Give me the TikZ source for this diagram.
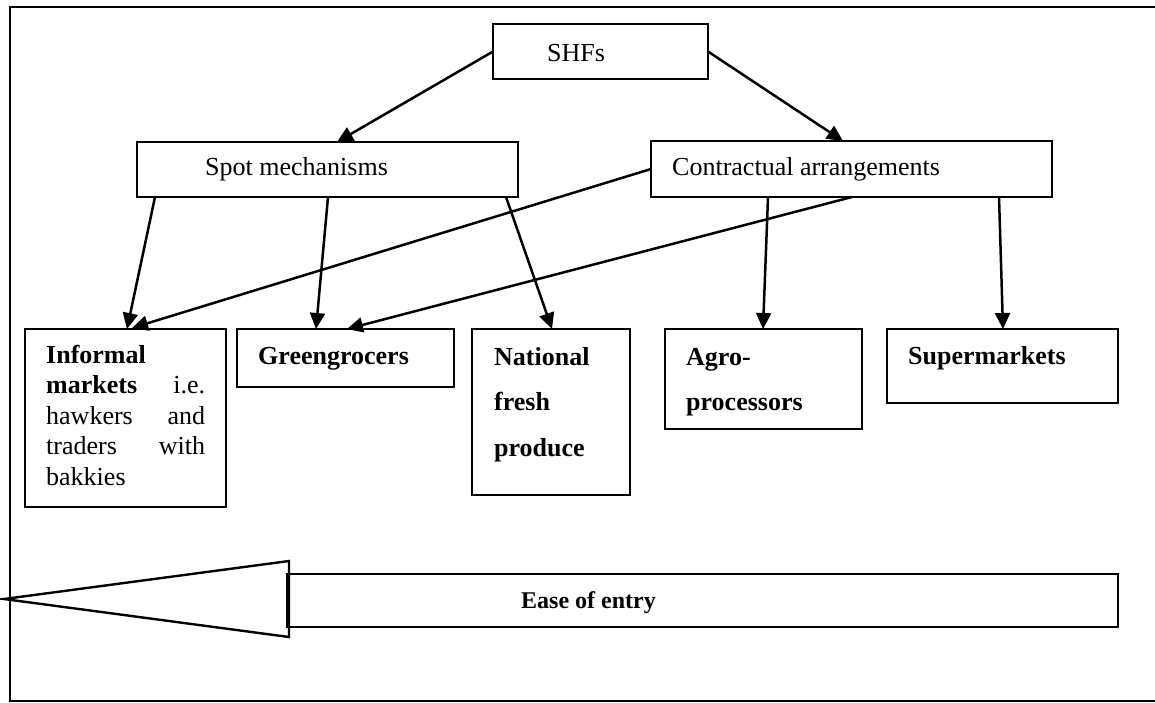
\documentclass[tikz,border=0pt]{standalone}
\usepackage{fontspec}
\setmainfont{Liberation Serif}
\usetikzlibrary{arrows.meta}
\begin{document}
\begin{tikzpicture}[x=1pt,y=-1pt,
  box/.style={draw,line width=1.9pt,rectangle,inner sep=0pt,outer sep=0pt,anchor=north west},
  txt/.style={inner sep=0pt,anchor=base west,font=\fontsize{26}{30}\selectfont},
  link/.style={line width=2.5pt,-{Triangle[length=16pt,width=15pt]}}]
\useasboundingbox (0,0) rectangle (1155,702);
% outer frame
\draw[line width=2.6pt] (1170,7) -- (10,7) -- (10,701) -- (1170,701);
% boxes
\node[box,minimum width=215pt,minimum height=55pt] (shf) at (493,24) {};
\node[box,minimum width=381pt,minimum height=55pt] (spot) at (137,142) {};
\node[box,minimum width=401pt,minimum height=56pt] (contr) at (651,141) {};
\node[box,minimum width=201pt,minimum height=178pt] (inf) at (25,329) {};
\node[box,minimum width=217pt,minimum height=58pt] (grn) at (237,329) {};
\node[box,minimum width=158pt,minimum height=166pt] (nat) at (472,329) {};
\node[box,minimum width=197pt,minimum height=100pt] (agro) at (665,329) {};
\node[box,minimum width=231pt,minimum height=74pt] (sup) at (887,329) {};
% labels
\node[txt] (tshf) at (547,61) {SHFs};
\node[txt] (tspot) at (205,175) {Spot mechanisms};
\node[txt] (tcontr) at (672,175) {Contractual arrangements};
\node[txt] (tinf) at (46,363) {\parbox[t]{159pt}{\fontsize{26}{30.5}\selectfont
  \textbf{Informal}\\ \textbf{markets}\hfill i.e.\\ hawkers\hfill and\\ traders\hfill with\\ bakkies}};
\node[txt] (tgrn) at (258,364) {\textbf{Greengrocers}};
\node[txt] (tnat) at (494,365) {\parbox[t]{130pt}{\fontsize{26}{45.5}\selectfont\bfseries
  National\\ fresh\\ produce}};
\node[txt] (tagro) at (686,365) {\parbox[t]{170pt}{\fontsize{26}{45.5}\selectfont\bfseries
  Agro-\\ processors}};
\node[txt] (tsup) at (908,364) {\textbf{Supermarkets}};
% connectors
\draw[link] (shf.west) -- ([xshift=200pt]spot.north west);
\draw[link] (shf.east) -- ([xshift=192pt]contr.north west);
\draw[link] ([xshift=18pt]spot.south west) -- ([xshift=102pt]inf.north west);
\draw[link] ([xshift=191pt]spot.south west) -- ([xshift=79pt]grn.north west);
\draw[link] ([xshift=369pt]spot.south west) -- ([xshift=80pt]nat.north west);
\draw[link] (contr.west) -- ([xshift=107pt,yshift=1pt]inf.north west);
\draw[link] ([xshift=201pt]contr.south west) -- ([xshift=110pt]grn.north west);
\draw[link] ([xshift=117pt]contr.south west) -- ([xshift=98pt]agro.north west);
\draw[link] ([xshift=348pt]contr.south west) -- ([xshift=116pt]sup.north west);
% ease-of-entry block arrow
\node[box,line width=2.4pt,minimum width=831pt,minimum height=53pt] (shaft) at (287,574) {};
\draw[line width=2.4pt,line join=miter] (289,561) -- (4,599) -- (289,637) -- cycle;
\node[txt,font=\fontsize{24}{28}\selectfont\bfseries] (tease) at (521,608) {Ease of entry};
\end{tikzpicture}
\end{document}
